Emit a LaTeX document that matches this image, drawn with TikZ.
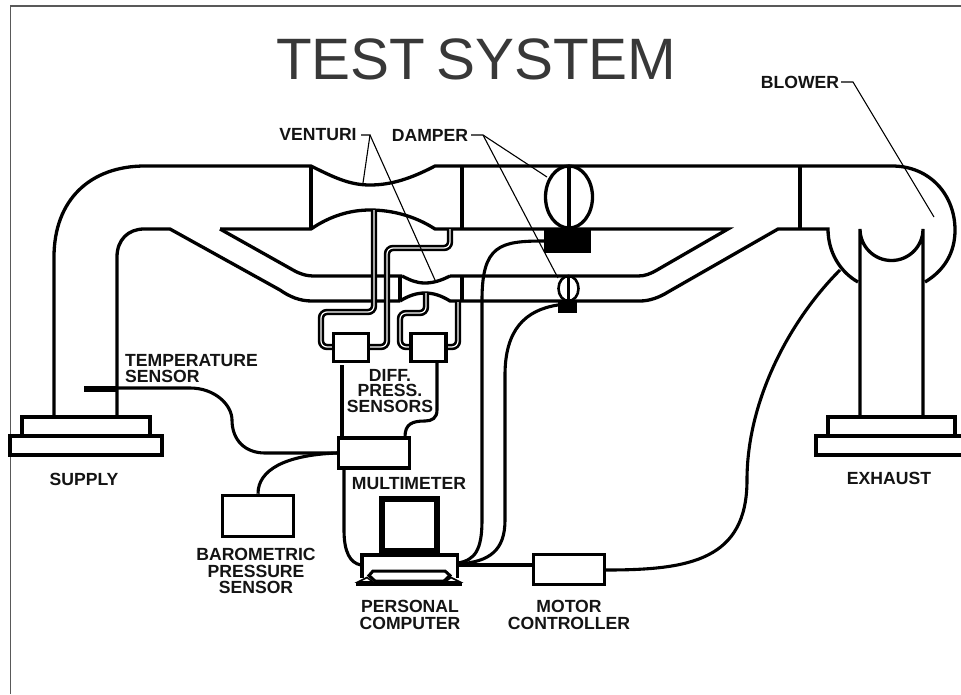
\documentclass[tikz,border=0pt]{standalone}
\usepackage{fontspec}
\setmainfont{Liberation Sans}
\begin{document}
\begin{tikzpicture}[x=1pt,y=-1pt,
  duct/.style={line width=3.3pt,line join=miter},
  wire/.style={line width=3.1pt},
  leader/.style={line width=1.1pt},
  tube/.style={double=white,double distance=1.2pt,line width=2.6pt,rounded corners=6pt},
  boxs/.style={draw,line width=3.6pt,fill=white,inner sep=0pt},
  lab/.style={font=\bfseries\fontsize{17.6}{16.4}\selectfont,align=center,inner sep=0pt,text=black!92}]
\useasboundingbox (0,0) rectangle (961,694);
\fill[white] (0,0) rectangle (961,694);
% frame
\draw[line width=1.6pt,black!65] (10.5,694) -- (10.5,6) -- (961,6);
% title
\node[inner sep=0pt,anchor=base west,text=black!78] (title) at (276,79) {\fontsize{58.4}{58}\selectfont TEST\hspace{-5.5pt} SYSTEM};
% supply
\draw[duct] (54,416) -- (54,257) .. controls (54,200) and (90,166) .. (145,166) -- (311,166)
  .. controls (335,178) and (350,185) .. (370,185) .. controls (392,185) and (412,178) .. (435,166) -- (892,166)
  .. controls (930,166) and (955,195) .. (955,230) .. controls (955,252) and (945,270) .. (925,282);
\draw[duct] (311,166) -- (311,229);
\draw[duct] (117,416) -- (117,257) .. controls (117,240) and (128,229) .. (144,229) -- (170,229)
  -- (280,290) .. controls (290,297) and (300,301) .. (312,301) -- (400,301);
\draw[duct] (220,229) -- (311,229) .. controls (330,216) and (350,210) .. (370,210) .. controls (392,210) and (415,216) .. (435,229) -- (728,229)
  -- (657,270) .. controls (650,274) and (645,276) .. (638,276) -- (450,276);
\draw[duct] (220,229) -- (293,270) .. controls (300,274) and (306,276) .. (315,276) -- (402,276);
\draw[duct] (402,276) .. controls (410,280) and (416,283) .. (425,283) .. controls (434,283) and (442,280) .. (450,276);
\draw[duct] (400,276) -- (400,301);
\draw[duct] (400,301) .. controls (408,296) and (416,293) .. (425,293) .. controls (434,293) and (442,296) .. (450,301) -- (640,301)
  .. controls (650,301) and (660,297) .. (668,292) -- (778,229) -- (828,229)
  .. controls (828,252) and (840,272) .. (858,282);
\draw[duct] (462,166) -- (462,229);
\draw[duct] (462,276) -- (462,301);
\draw[duct] (800,166) -- (800,229);
% exhaust
\draw[duct] (860,416) -- (860,229) arc[start angle=180,end angle=0,radius=31.5] -- (923,416);
% flanges
\draw[duct] (22,435) -- (22,417) -- (150,417) -- (150,435);
\draw[duct] (10,436) rectangle (162,455);
\draw[duct] (828,435) -- (828,417) -- (955,417) -- (955,435);
\draw[duct] (816,436) rectangle (975,455);
% dampers
\draw[duct] (569,197) ellipse[x radius=23.5,y radius=31];
\draw[duct] (569,166) -- (569,229);
\fill (544,229) rectangle (591,253);
\draw[duct,line width=2.6pt] (568.5,288.5) ellipse[x radius=10,y radius=12.5];
\draw[duct,line width=2.6pt] (568.5,276) -- (568.5,301);
\fill (558,301) rectangle (577,313);
% tubes
\draw[tube] (374,210) -- (374,312) -- (321,312) -- (321,347) -- (332,347);
\draw[tube] (450,229) -- (450,248) -- (387,248) -- (387,347) -- (370,347);
\draw[tube] (426,293) -- (426,313) -- (400,313) -- (400,347) -- (410,347);
\draw[tube] (458,302) -- (458,347) -- (447,347);
% boxes
\node[boxs,minimum width=35pt,minimum height=28pt] (ds1) at (351,347.5) {};
\node[boxs,minimum width=35pt,minimum height=28pt] (ds2) at (428.5,347.5) {};
\node[boxs,minimum width=71pt,minimum height=30pt] (mm) at (374,453) {};
\node[boxs,minimum width=71pt,minimum height=41pt] (baro) at (258,516) {};
\node[boxs,minimum width=71pt,minimum height=30pt] (mc) at (569,569.5) {};
\node[draw,line width=6pt,minimum width=55pt,minimum height=52pt,inner sep=0pt] (mon) at (409.5,525) {};
% PC base
\draw[line width=3.6pt,fill=white] (362,578) -- (362,555) -- (457.5,555) -- (457.5,578);
\draw[line width=3pt,fill=white] (373,571) -- (445,571) -- (450,575.5) -- (444,581) -- (375,581) -- (369,575.5) -- cycle;
\fill (356,582) rectangle (462,586);
\draw[line width=1.6pt,fill=white] (358,582) -- (367,577.5) -- (373,582) -- cycle;
\draw[line width=1.6pt,fill=white] (460,582) -- (451,577.5) -- (445,582) -- cycle;
\coordinate (pcw) at (361,565);
\coordinate (pce) at (458,565);
% wires
\draw[wire] (342,365) -- (342,437);
\draw[wire] (437,363) -- (437,410) .. controls (437,418) and (432,421) .. (425,421) .. controls (412,421) and (405,424) .. (405,437);
\fill (84,386) rectangle (118,392);
\draw[wire] (118,388) -- (190,388) .. controls (215,388) and (232,405) .. (232,420) .. controls (232,440) and (245,453) .. (265,453) -- (337,453);
\draw[wire] (baro.north) .. controls (258,470) and (285,455) .. (337,453);
\draw[wire] (344,470) -- (344,530) .. controls (344,552) and (350,563) .. (pcw);
\draw[wire] (544,241) .. controls (500,241) and (482,245) .. (482,300) -- (482,520) .. controls (482,550) and (475,560) .. (458,563);
\draw[wire] (558,305) .. controls (525,310) and (505,330) .. (505,375) -- (505,520) .. controls (505,550) and (490,562) .. (458,564);
\draw[wire] (pce) -- (533,565);
\draw[wire] (606,570) .. controls (690,570) and (747,560) .. (747,480) .. controls (747,400) and (790,320) .. (840,270);
% leaders
\draw[leader] (361,135) -- (370,135) -- (363,183);
\draw[leader] (370,135) -- (435,280);
\draw[leader] (471,135) -- (483,135) -- (547,177);
\draw[leader] (483,135) -- (558,278);
\draw[leader] (841,82) -- (853,82) -- (934,217);
% labels
\node[lab,anchor=base west] (l1) at (125,366) {TEMPERATURE};
\node[lab,anchor=base west] (l1b) at (125,382) {SENSOR};
\node[lab] (l2) at (318,135) {VENTURI};
\node[lab] (l3) at (430,135) {DAMPER};
\node[lab] (l4) at (800,82) {BLOWER};
\node[lab,font=\bfseries\fontsize{17.6}{15.6}\selectfont] (l5) at (390,391) {DIFF.\\PRESS.\\SENSORS};
\node[lab] (l6) at (84,479) {SUPPLY};
\node[lab] (l7) at (889,478) {EXHAUST};
\node[lab] (l8) at (409,484) {MULTIMETER};
\node[lab] (l9) at (256,571) {BAROMETRIC\\PRESSURE\\SENSOR};
\node[lab] (l10) at (410,615) {PERSONAL\\COMPUTER};
\node[lab] (l11) at (569,615) {MOTOR\\CONTROLLER};
\end{tikzpicture}
\end{document}
